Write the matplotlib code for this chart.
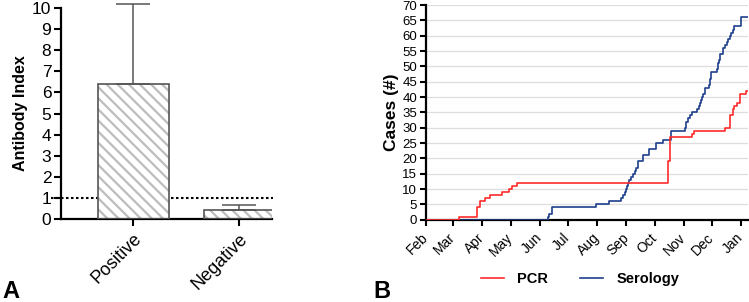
import numpy as np
import pandas as pd
import matplotlib
matplotlib.use("Agg")
import matplotlib.pyplot as plt

plt.rcParams["font.family"] = ["Liberation Sans", "DejaVu Sans"]
plt.rcParams["hatch.linewidth"] = 1.6

# Panel A data
groups = ["Positive", "Negative"]
antibody_mean = [6.4, 0.42]
antibody_err = [3.8, 0.23]
cutoff = 1.0

# Panel B data (days since 2020-02-01, cumulative cases)
pcr_days = [0, 35, 54, 57, 63, 68, 81, 88, 91, 97, 257, 260, 283, 285, 318,
            323, 326, 328, 331, 334, 340]
pcr_cases = [0, 1, 4, 6, 7, 8, 9, 10, 11, 12, 19, 27, 28, 29, 30,
             34, 36, 37, 38, 41, 42]
sero_days = [0, 130, 131, 134, 181, 195, 207, 210, 212, 213, 214, 215, 216,
             218, 220, 222, 223, 225, 231, 237, 245, 252, 261, 275, 276, 277,
             279, 281, 283, 288, 290, 291, 292, 294, 295, 297, 301, 302, 303,
             309, 310, 311, 312, 313, 316, 318, 320, 321, 323, 324, 326, 327,
             335]
sero_cases = [0, 1, 2, 4, 5, 6, 7, 8, 9, 10, 11, 12, 13,
              14, 15, 16, 17, 19, 21, 23, 25, 26, 29, 30, 31, 32,
              33, 34, 35, 36, 37, 38, 39, 40, 41, 43, 44, 46, 48,
              49, 50, 51, 52, 54, 56, 57, 58, 59, 60, 61, 62, 63,
              66]
month_labels = ["Feb", "Mar", "Apr", "May", "Jun", "Jul", "Aug", "Sep",
                "Oct", "Nov", "Dec", "Jan"]

start = pd.Timestamp("2020-02-01")
end = pd.Timestamp("2021-01-08 10:00")


def to_dates(days, vals):
    d = [start + pd.Timedelta(days=x) for x in days] + [end]
    v = list(vals) + [vals[-1]]
    return d, v


fig = plt.figure(figsize=(7.49, 3.02), dpi=100)

# ---------- Panel A ----------
axA = fig.add_axes([61 / 749, 1 - 219 / 302, 211 / 749, 211 / 302])
x = np.arange(len(groups))
axA.plot([-0.77, 1.32], [cutoff, cutoff], color="black", linestyle=(0, (1.2, 1.2)),
         linewidth=1.5, zorder=1, clip_on=False)
axA.bar(x, antibody_mean, width=0.67, color="white", edgecolor="#bdbdbd",
        hatch="\\\\\\", linewidth=0, zorder=2)
axA.bar(x, antibody_mean, width=0.67, color="none", edgecolor="#555555",
        linewidth=1.2, zorder=3)
eb = axA.errorbar(x, antibody_mean, yerr=[[0, 0], antibody_err], fmt="none",
                  ecolor="#555555", elinewidth=1.1, capsize=12.5, capthick=1.1,
                  zorder=3)
for art in eb.lines[1] + eb.lines[2]:
    art.set_clip_on(False)
axA.set_xlim(-0.68, 1.31)
axA.set_ylim(0, 10)
axA.set_yticks(range(0, 11))
axA.set_xticks(x)
axA.set_xticklabels(groups, rotation=45, ha="right", rotation_mode="anchor")
axA.tick_params(axis="y", labelsize=12.5, width=1.5, length=5, pad=2)
axA.tick_params(axis="x", labelsize=13, width=1.5, length=5, pad=3)
for s in ["top", "right"]:
    axA.spines[s].set_visible(False)
for s in ["left", "bottom"]:
    axA.spines[s].set_linewidth(1.6)
axA.set_ylabel("Antibody Index", fontsize=11.5, fontweight="bold", labelpad=3)

# ---------- Panel B ----------
axB = fig.add_axes([426 / 749, 1 - 219.7 / 302, 322 / 749, 214.7 / 302])
d, v = to_dates(sero_days, sero_cases)
axB.plot(d, v, drawstyle="steps-post", color="#1f3f8c", linewidth=1.2,
         label="Serology", zorder=3)
d, v = to_dates(pcr_days, pcr_cases)
axB.plot(d, v, drawstyle="steps-post", color="#ff2b2b", linewidth=1.2,
         label="PCR", zorder=4)
axB.set_xlim(start, end)
axB.set_ylim(0, 70)
axB.set_yticks(range(0, 71, 5))
axB.yaxis.grid(True, color="#dedede", linewidth=0.9)
axB.set_axisbelow(True)
ticks = pd.date_range("2020-02-01", "2021-01-01", freq="MS")
axB.set_xticks(ticks)
axB.set_xticklabels(month_labels, rotation=45, ha="right", va="center",
                    rotation_mode="anchor")
axB.tick_params(axis="y", labelsize=9.5, width=1.5, length=4.5, pad=2)
axB.tick_params(axis="x", labelsize=10, width=1.5, length=4.5, pad=7)
for s in ["top", "right"]:
    axB.spines[s].set_visible(False)
for s in ["left", "bottom"]:
    axB.spines[s].set_linewidth(1.6)
axB.set_ylabel("Cases (#)", fontsize=12.5, fontweight="bold", labelpad=2)

handles, labels = axB.get_legend_handles_labels()
fig.legend(handles[::-1], labels[::-1], loc="center", ncol=2,
           bbox_to_anchor=(580 / 749, 1 - 279 / 302), frameon=False,
           prop={"weight": "bold", "size": 10.5}, handlelength=1.6,
           handletextpad=0.9, columnspacing=2.2)

fig.text(2 / 749, 1 - 298 / 302, "A", fontsize=17, fontweight="bold")
fig.text(373 / 749, 1 - 298 / 302, "B", fontsize=17, fontweight="bold")

fig.savefig("out.png", dpi=100)
